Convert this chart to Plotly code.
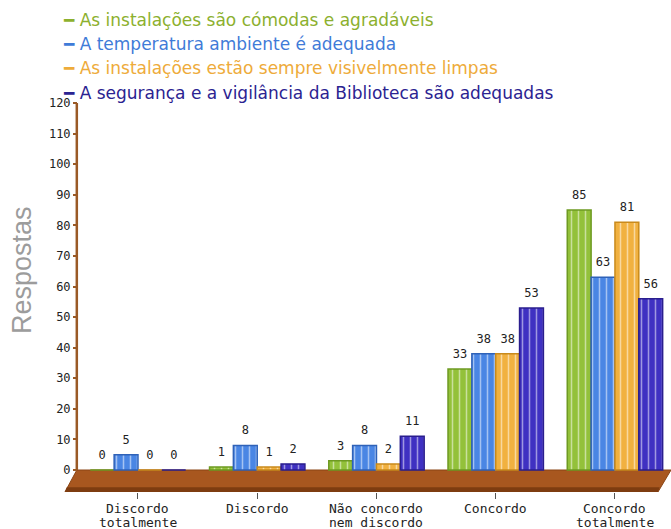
import plotly.graph_objects as go

categories = ["Discordo<br>totalmente", "Discordo", "Não concordo<br>nem discordo", "Concordo", "Concordo<br>totalmente"]
series_names = [
    "As instalações são cómodas e agradáveis",
    "A temperatura ambiente é adequada",
    "As instalações estão sempre visivelmente limpas",
    "A segurança e a vigilância da Biblioteca são adequadas",
]
s1 = [0, 1, 3, 33, 85]
s2 = [5, 8, 8, 38, 63]
s3 = [0, 1, 2, 38, 81]
s4 = [0, 2, 11, 53, 56]
series_values = [s1, s2, s3, s4]
bar_colors = ["#93c13a", "#4a86e4", "#f1b140", "#3f31c2"]
line_colors = ["#6e9a22", "#2f62b8", "#c98a1c", "#2a1e8e"]
legend_colors = ["#8cb02e", "#3f7bd8", "#eeab3a", "#2b2391"]
y_ticks = list(range(0, 121, 10))
LABEL_GAP = 1.7  # extra space (in axis units) between a bar top and its value label

fig = go.Figure()
for i, (name, vals, bc, lc) in enumerate(zip(series_names, series_values, bar_colors, line_colors)):
    fig.add_trace(go.Bar(
        x=categories, y=vals, name=name, offsetgroup=str(i),
        marker=dict(color=bc, line=dict(color=lc, width=1.5),
                    pattern=dict(shape="|", fgcolor="white", fgopacity=0.5, size=7, solidity=0.22)),
        showlegend=False, hoverinfo="x+y+name",
    ))
    # transparent spacer bar carrying the value label a little above the bar top
    fig.add_trace(go.Bar(
        x=categories, y=[LABEL_GAP] * len(vals), base=vals, offsetgroup=str(i),
        marker=dict(color="rgba(0,0,0,0)", line=dict(width=0)),
        text=[str(v) for v in vals], textposition="outside", cliponaxis=False,
        constraintext="none",
        textfont=dict(family="DejaVu Sans Mono", size=12, color="#222222"),
        showlegend=False, hoverinfo="skip",
    ))

YMIN = -7.19
shapes = [
    # floor slab
    dict(type="path", xref="paper", yref="y", layer="below",
         path=f"M -0.002,0 L 1.0,0 L 0.978,{YMIN} L -0.022,{YMIN} Z",
         fillcolor="#a8571f", line=dict(color="#8a4515", width=1)),
    dict(type="path", xref="paper", yref="y", layer="below",
         path=f"M 0.981,-5.6 L 0.978,{YMIN} L -0.022,{YMIN} L -0.019,-5.6 Z",
         fillcolor="#7e3c10", line=dict(width=0)),
    # y axis line
    dict(type="line", xref="paper", yref="y", x0=-0.002, x1=-0.002, y0=0, y1=120,
         line=dict(color="#9a5a26", width=2.5)),
]

annotations = []
for i, (name, c) in enumerate(zip(series_names, legend_colors)):
    annotations.append(dict(
        xref="paper", yref="paper", x=-0.028, y=1.0 + (83 - 24.2 * i) / 389,
        xanchor="left", yanchor="middle", showarrow=False,
        text=f"━ {name}",
        font=dict(family="DejaVu Sans", size=17, color=c),
    ))
annotations.append(dict(
    xref="paper", yref="paper", x=-56 / 593, y=(492 - 270) / 389,
    xanchor="center", yanchor="middle", showarrow=False, textangle=-90,
    text="Respostas", font=dict(family="Liberation Sans", size=27, color="#9c9c9c"),
))
# category labels (two lines, tight spacing as in the reference)
for cat in categories:
    for j, line in enumerate(cat.split("<br>")):
        annotations.append(dict(
            xref="x", yref="paper", x=cat, y=-(16 + 14 * j) / 389,
            xanchor="center", yanchor="middle", showarrow=False,
            text=line, font=dict(family="DejaVu Sans Mono", size=13, color="#222222"),
        ))

fig.update_layout(
    width=671, height=529,
    margin=dict(l=78, r=0, t=103, b=37, autoexpand=False),
    paper_bgcolor="white", plot_bgcolor="white",
    barmode="group", bargap=0.2, bargroupgap=0.0,
    shapes=shapes, annotations=annotations,
    xaxis=dict(range=[-0.503, 4.47], showline=False, showgrid=False, zeroline=False,
               ticks="outside", ticklen=6, tickcolor="#555555", tickwidth=1,
               showticklabels=False, automargin=False),
    yaxis=dict(range=[YMIN, 120], tickvals=y_ticks, showline=False, showgrid=False, zeroline=False,
               ticks="outside", ticklen=4, tickcolor="#9a5a26", tickwidth=1.5,
               tickfont=dict(family="DejaVu Sans Mono", size=12, color="#222222"),
               automargin=False),
)

fig.write_html("out.html", config={"displayModeBar": False},
               post_script="document.body.style.margin='0px';document.body.style.overflow='hidden';")
